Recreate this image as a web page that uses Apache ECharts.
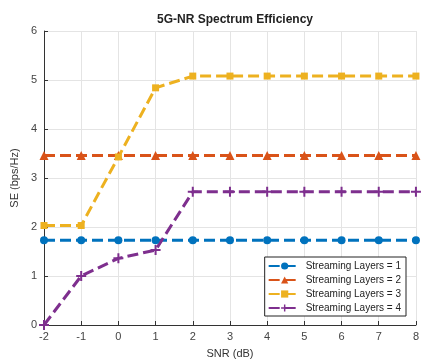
<!DOCTYPE html>
<html><head><meta charset="utf-8">
<script src="https://cdn.jsdelivr.net/npm/echarts@6/dist/echarts.min.js"></script>
<style>html,body{margin:0;padding:0;background:#fff}#c{width:422px;height:364px}</style>
</head><body><div id="c"></div>
<script>
const snr = [-2,-1,0,1,2,3,4,5,6,7,8];
const layers1 = [1.73,1.73,1.73,1.73,1.73,1.73,1.73,1.73,1.73,1.73,1.73];
const layers2 = [3.46,3.46,3.46,3.46,3.46,3.46,3.46,3.46,3.46,3.46,3.46];
const layers3 = [2.03,2.03,3.43,4.84,5.08,5.08,5.08,5.08,5.08,5.08,5.08];
const layers4 = [0,1.0,1.36,1.53,2.72,2.72,2.72,2.72,2.72,2.72,2.72];
const names = ['Streaming Layers = 1','Streaming Layers = 2','Streaming Layers = 3','Streaming Layers = 4'];
const colors = ['#0072BD','#D95319','#EDB120','#7E2F8E'];
const symbols = ['circle','triangle','rect','path://M4,0H6V4H10V6H6V10H4V6H0V4H4Z'];
const symSizes = [8,9,7,10];
const all = [layers1,layers2,layers3,layers4];
const chart = echarts.init(document.getElementById('c'));
chart.setOption({
  animation:false,
  title:{text:'5G-NR Spectrum Efficiency',left:230,top:9,textAlign:'center',textStyle:{fontFamily:'Liberation Sans',fontSize:12,fontWeight:'bold',color:'#222'}},
  grid:{left:44,right:2,top:31,bottom:37},
  legend:{right:16,top:257,orient:'vertical',itemGap:4,itemWidth:32,itemHeight:9,
    backgroundColor:'#fff',borderColor:'#222',borderWidth:1,padding:[4,5,3,3],
    textStyle:{fontFamily:'Liberation Sans',fontSize:10,color:'#222'},data:names},
  xAxis:{type:'value',min:-2,max:8,interval:1,name:'SNR (dB)',nameLocation:'middle',nameGap:23,
    nameTextStyle:{fontFamily:'Liberation Sans',fontSize:11,color:'#333'},
    axisLine:{onZero:false,lineStyle:{color:'#333'}},axisTick:{inside:true,length:4,lineStyle:{color:'#333'}},
    axisLabel:{fontFamily:'Liberation Sans',fontSize:11,color:'#444',margin:6},
    splitLine:{lineStyle:{color:'#e4e4e4'}}},
  yAxis:{type:'value',min:0,max:6,interval:1,name:'SE (bps/Hz)',nameLocation:'middle',nameGap:14,
    nameTextStyle:{fontFamily:'Liberation Sans',fontSize:11,color:'#333'},
    axisLine:{show:true,onZero:false,lineStyle:{color:'#333'}},axisTick:{show:true,inside:true,length:4,lineStyle:{color:'#333'}},
    axisLabel:{fontFamily:'Liberation Sans',fontSize:11,color:'#444',margin:7},
    splitLine:{lineStyle:{color:'#e4e4e4'}}},
  series: all.map((d,i)=>({
    name:names[i],type:'line',data:snr.map((x,j)=>[x,d[j]]),
    symbol:symbols[i],symbolSize:symSizes[i],showAllSymbol:true,
    itemStyle:{color:colors[i]},
    lineStyle:{color:colors[i],width:3,type:[11,5]}
  }))
});
</script></body></html>
